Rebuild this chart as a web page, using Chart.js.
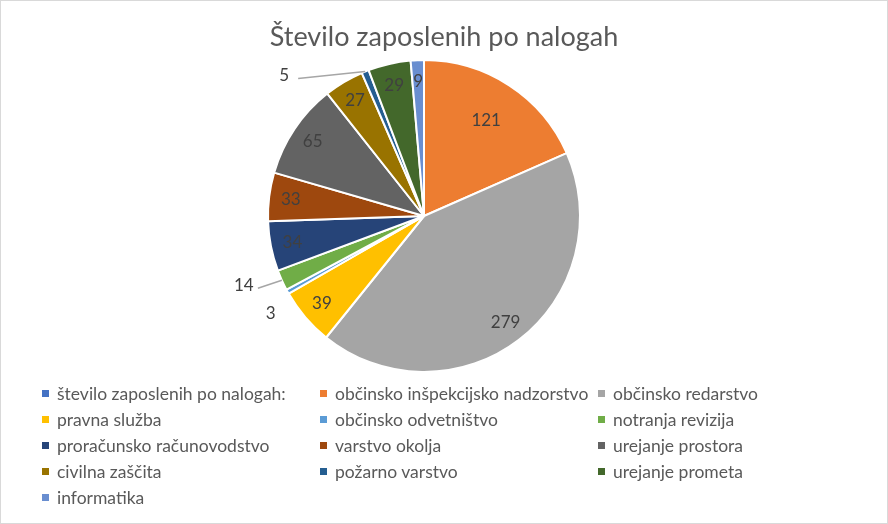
<!DOCTYPE html>
<html>
<head>
<meta charset="utf-8">
<script src="https://cdn.jsdelivr.net/npm/chart.js@4.4.1/dist/chart.umd.min.js"></script>
<style>
  html, body { margin: 0; padding: 0; background: #fff; }
  #wrap { position: relative; width: 886px; height: 522px; border: 1px solid #d9d9d9; overflow: hidden; }
  #title { position: absolute; left: 0; width: 886px; top: 18px; text-align: center;
           font-family: Lato, "Open Sans", sans-serif; font-size: 27px; color: #595959; }
  #legend { position: absolute; left: 41px; top: 379px; display: grid;
            grid-template-columns: 278px 278px 278px; grid-auto-rows: 26px;
            font-family: Lato, "Open Sans", sans-serif; font-size: 17.5px; color: #595959; }
  #legend div { display: flex; align-items: center; white-space: nowrap; }
  #legend span { display: inline-block; width: 7px; height: 7px; margin-right: 8px; }
</style>
</head>
<body>
<div id="wrap">
  <canvas id="pieChart" width="886" height="522"></canvas>
  <div id="title">Število zaposlenih po nalogah</div>
  <div id="legend"></div>
</div>
<script>
let categories = [
  'število zaposlenih po nalogah:',
  'občinsko inšpekcijsko nadzorstvo',
  'občinsko redarstvo',
  'pravna služba',
  'občinsko odvetništvo',
  'notranja revizija',
  'proračunsko računovodstvo',
  'varstvo okolja',
  'urejanje prostora',
  'civilna zaščita',
  'požarno varstvo',
  'urejanje prometa',
  'informatika'
];
let employees = [0, 121, 279, 39, 3, 14, 34, 33, 65, 27, 5, 29, 9];
let colors = ['#4472C4', '#ED7D31', '#A5A5A5', '#FFC000', '#5B9BD5', '#70AD47',
              '#264478', '#9E480E', '#636363', '#997300', '#255E91', '#43682B', '#698ED0'];

// labels placed outside with a leader line (offset from slice edge)
let outsideLabels = {
  4: { dx: -17, dy: 22, line: false },
  5: { dx: -38, dy: 5, line: true },
  10: { dx: -81, dy: 4, line: true }
};

const pieLabels = {
  id: 'pieLabels',
  afterDatasetsDraw(chart) {
    const ctx = chart.ctx;
    const meta = chart.getDatasetMeta(0);
    ctx.save();
    ctx.font = '17px Lato, "Open Sans", sans-serif';
    ctx.fillStyle = '#404040';
    ctx.textAlign = 'center';
    ctx.textBaseline = 'middle';
    meta.data.forEach(function(arc, i) {
      const v = employees[i];
      if (!v) return;
      const mid = (arc.startAngle + arc.endAngle) / 2;
      const r = arc.outerRadius;
      if (outsideLabels[i]) {
        const o = outsideLabels[i];
        const ex = arc.x + Math.cos(mid) * r;
        const ey = arc.y + Math.sin(mid) * r;
        const lx = ex + o.dx;
        const ly = ey + o.dy;
        if (o.line) {
          ctx.strokeStyle = '#a6a6a6';
          ctx.lineWidth = 1.5;
          ctx.beginPath();
          ctx.moveTo(ex, ey);
          ctx.lineTo(lx + 14, ly + 3);
          ctx.stroke();
        }
        ctx.fillStyle = '#404040';
        ctx.fillText(v, lx, ly);
      } else {
        const f = i === 1 ? 0.73 : 0.86;
        ctx.fillText(v, arc.x + Math.cos(mid) * r * f, arc.y + Math.sin(mid) * r * f);
      }
    });
    ctx.restore();
  }
};

let ctxPie = document.getElementById('pieChart').getContext('2d');
let pieChart = new Chart(ctxPie, {
  type: 'pie',
  data: {
    labels: categories,
    datasets: [{
      data: employees,
      backgroundColor: colors,
      borderColor: '#ffffff',
      borderWidth: 2,
      hoverOffset: 0
    }]
  },
  options: {
    responsive: false,
    animation: false,
    layout: { padding: { top: 56, bottom: 148, left: 266, right: 306 } },
    plugins: {
      legend: { display: false },
      tooltip: { enabled: false }
    }
  },
  plugins: [pieLabels]
});

// legend in three columns like the original
let legendBox = document.getElementById('legend');
categories.forEach(function(name, i) {
  let item = document.createElement('div');
  item.innerHTML = '<span style="background:' + colors[i] + '"></span>' + name;
  legendBox.appendChild(item);
});
</script>
</body>
</html>
